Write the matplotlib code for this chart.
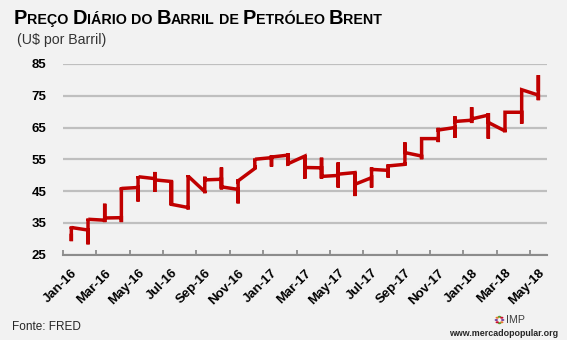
import numpy as np
import matplotlib.pyplot as plt
from matplotlib.ticker import FixedLocator, NullFormatter

# Brent, monthly summary of the daily series (US$ per barrel)
months = ['Jan-16', 'Feb-16', 'Mar-16', 'Apr-16', 'May-16', 'Jun-16', 'Jul-16',
          'Aug-16', 'Sep-16', 'Oct-16', 'Nov-16', 'Dec-16', 'Jan-17', 'Feb-17',
          'Mar-17', 'Apr-17', 'May-17', 'Jun-17', 'Jul-17', 'Aug-17', 'Sep-17',
          'Oct-17', 'Nov-17', 'Dec-17', 'Jan-18', 'Feb-18', 'Mar-18', 'Apr-18',
          'May-18']
first = [31.0, 32.7, 35.8, 36.6, 46.1, 48.9, 48.0, 39.8, 44.8, 48.7, 45.5, 52.1,
         55.5, 56.3, 56.0, 52.3, 49.9, 50.8, 49.2, 51.5, 53.4, 56.0, 61.5, 65.0,
         67.3, 68.9, 63.9, 69.8, 75.2]
low = [29.2, 28.2, 35.2, 35.2, 41.7, 44.7, 40.5, 39.2, 44.3, 45.5, 41.1, 51.8,
       52.7, 53.1, 48.9, 48.9, 46.1, 43.4, 46.1, 49.2, 53.0, 55.0, 60.4, 61.8,
       66.4, 61.5, 63.5, 66.2, 73.6]
high = [33.8, 36.3, 41.0, 46.1, 49.7, 51.0, 48.2, 50.0, 49.5, 52.4, 48.7, 55.2,
        56.3, 56.8, 56.3, 55.5, 54.0, 51.0, 52.4, 53.4, 60.3, 61.5, 64.9, 68.5,
        71.4, 69.5, 69.8, 76.9, 81.5]
last = [33.5, 36.1, 36.5, 45.8, 49.5, 48.5, 40.8, 49.7, 48.5, 46.3, 48.2, 55.0,
        55.7, 53.6, 52.4, 49.6, 50.3, 47.1, 51.8, 52.9, 57.1, 61.5, 64.2, 66.9,
        67.7, 66.6, 69.8, 76.9, 77.0]

# every daily value of a month sits on the same x, so the line runs up and down there
xs, ys = [], []
for i in range(len(months)):
    xs += [i] * 4
    ys += [first[i], low[i], high[i], last[i]]

bg = '#f2f2f2'
fig = plt.figure(figsize=(5.67, 3.4), dpi=100, facecolor=bg)
ax = fig.add_axes([63 / 567, 1 - 254.5 / 340, (546.7 - 63) / 567, (254.5 - 64) / 340])
ax.set_facecolor(bg)

ax.plot(xs, ys, color='#c00000', lw=2.5, solid_joinstyle='miter', clip_on=False, zorder=3)

ax.set_xlim(-0.5, 28.5)
ax.set_ylim(25, 85)
ax.set_yticks(np.arange(25, 86, 10))
ax.grid(axis='y', color='#bfbfbf', lw=1.6)
ax.set_axisbelow(True)
for s in ['top', 'right', 'left']:
    ax.spines[s].set_visible(False)
ax.spines['bottom'].set_color('#8c8c8c')
ax.spines['bottom'].set_linewidth(1.5)
ax.spines['bottom'].set_zorder(4)

lab_pos = list(range(0, len(months), 2))
ax.set_xticks(lab_pos)
ax.set_xticklabels([months[i] for i in lab_pos], rotation=45, ha='right', va='top',
                   rotation_mode='anchor', fontsize=9.5, fontweight='bold',
                   family='Liberation Sans')
ax.xaxis.set_minor_locator(FixedLocator(np.arange(-0.5, 28, 2)))
ax.xaxis.set_minor_formatter(NullFormatter())
ax.tick_params(axis='x', which='major', length=0, pad=9)
ax.tick_params(axis='x', which='minor', direction='in', length=3.5, width=1.3,
               color='#8c8c8c')
ax.tick_params(axis='y', length=0, pad=12)
for t in ax.get_yticklabels():
    t.set_fontsize(9.5)
    t.set_fontweight('bold')
    t.set_family('Liberation Sans')

# title in small caps: capital initials, smaller capitals for the rest
words = [('P', 'REÇO'), ('D', 'IÁRIO'), ('', 'DO'), ('B', 'ARRIL'), ('', 'DE'),
         ('P', 'ETRÓLEO'), ('B', 'RENT')]
r = fig.canvas.get_renderer()
x = 14 / 567
yb = 1 - 24 / 340
for big, small in words:
    for txt, size in [(big, 14.4), (small, 10.3)]:
        if not txt:
            continue
        t = fig.text(x, yb, txt, fontsize=size, fontweight='bold',
                     family='Liberation Sans', va='baseline', ha='left', color='black')
        bb = t.get_window_extent(renderer=r)
        x += bb.width / fig.bbox.width
    x += 4 / 567

fig.text(17 / 567, 1 - 40 / 340, '(U$ por Barril)', fontsize=10.2, color='#333333',
         family='Liberation Sans', va='center', ha='left')
fig.text(12.5 / 567, 1 - 327 / 340, 'Fonte: FRED', fontsize=8.5, color='#262626',
         family='Liberation Sans', va='center', ha='left')

# IMP mark
cx, cy = 499.5, 320
for ang, col in zip(range(0, 360, 45), ['#7b3f98', '#e8772e', '#5aa02c', '#c8102e',
                                        '#7b3f98', '#e8772e', '#5aa02c', '#c8102e']):
    dx, dy = 3.2 * np.cos(np.radians(ang)), 3.2 * np.sin(np.radians(ang))
    fig.patches.append(plt.Circle(((cx + dx) / 567, 1 - (cy + dy) / 340), 1.7 / 567,
                                  transform=fig.transFigure, color=col, lw=0))
fig.text(506 / 567, 1 - 320 / 340, 'IMP', fontsize=7.7, color='#404040',
         family='Liberation Sans', va='center', ha='left')
fig.text(558 / 567, 1 - 334 / 340, 'www.mercadopopular.org', fontsize=6.4,
         fontweight='bold', color='#262626', family='Liberation Sans',
         va='center', ha='right')

fig.savefig('out.png', dpi=100, facecolor=bg)
